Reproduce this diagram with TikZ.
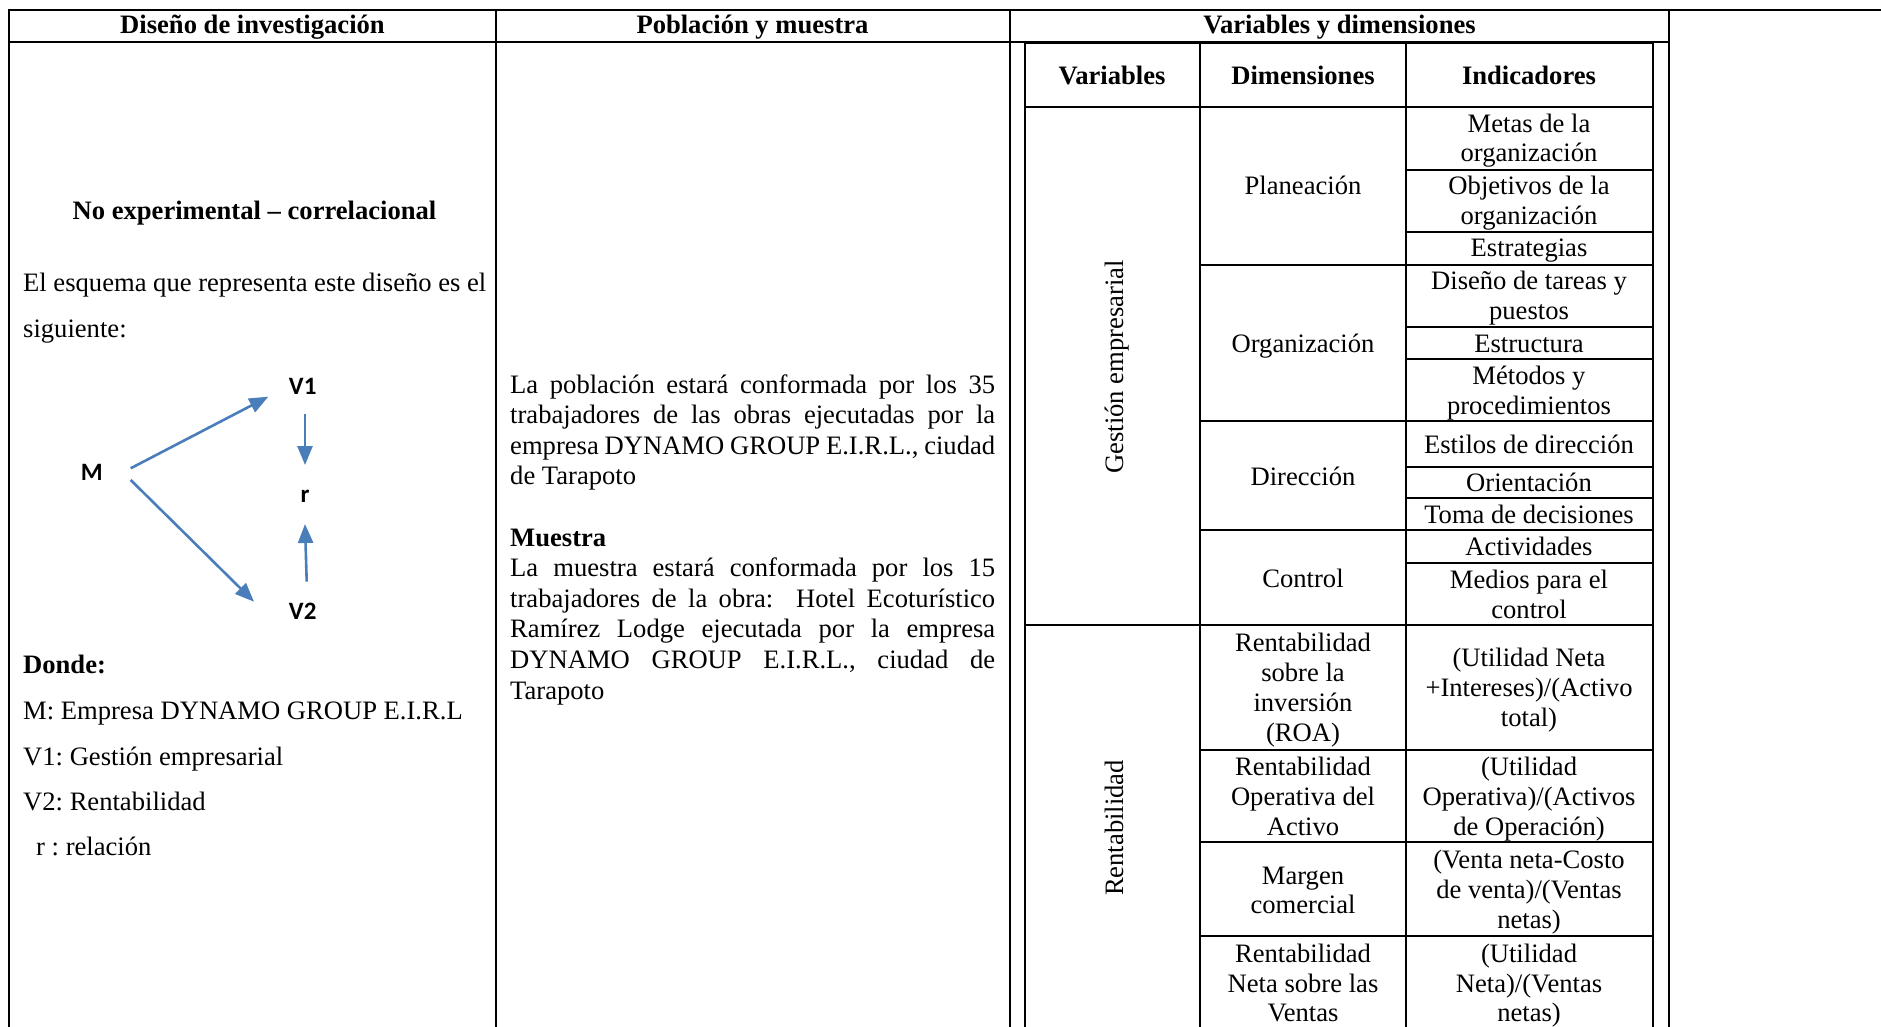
\documentclass[tikz,border=0pt]{standalone}
\usepackage{fontspec}
\setmainfont{Liberation Serif}
\newfontfamily\calibri{Carlito}
\usetikzlibrary{arrows.meta}
\definecolor{arrowblue}{RGB}{74,126,187}
\frenchspacing
\begin{document}
\begin{tikzpicture}[x=1pt,y=-1pt,
  rule/.style={line width=2pt, line cap=rect},
  txt/.style={inner sep=0pt, font=\fontsize{26.6}{30.5}\selectfont\frenchspacing},
  hd/.style={inner sep=0pt, font=\fontsize{26.6}{30.5}\selectfont\bfseries\frenchspacing},
  dg/.style={inner sep=0pt, font=\calibri\bfseries\fontsize{25}{28}\selectfont},
  arr/.style={arrowblue, line width=2.6pt, -{Triangle[length=19pt,width=15pt]}}
]
\useasboundingbox (0,0) rectangle (1881,1027);
\fill[white] (0,0) rectangle (1881,1027);

% outer table rules
\draw[rule] (9,10) -- (1885,10);
\draw[rule] (9,10) -- (9,1032);
\draw[rule] (9,42) -- (1669,42);
\draw[rule] (496,10) -- (496,1032);
\draw[rule] (1010,10) -- (1010,1032);
\draw[rule] (1669,10) -- (1669,1032);

% inner table rules
\draw[rule] (1024.5,43.5) -- (1652.5,43.5);
\draw[rule] (1024.5,43.5) -- (1024.5,1032);
\draw[rule] (1652.5,43.5) -- (1652.5,1032);
\draw[rule] (1200,43.5) -- (1200,1032);
\draw[rule] (1406,43.5) -- (1406,1032);
\foreach \yy in {107,625} \draw[rule] (1024.5,\yy) -- (1652.5,\yy);
\foreach \yy in {264.5,421,530.4,750,842.4,936} \draw[rule] (1200,\yy) -- (1652.5,\yy);
\foreach \yy in {170,231.8,326.5,358.5,466.8,498.2,562.5} \draw[rule] (1406,\yy) -- (1652.5,\yy);

% headers
\node[hd, anchor=base] (h1) at (252.5,33.5) {Diseño de investigación};
\node[hd, anchor=base] (h2) at (752.5,33.5) {Población y muestra};
\node[hd, anchor=base] (h3) at (1339.5,33.5) {Variables y dimensiones};
\node[hd, anchor=base] (ih1) at (1112,85) {Variables};
\node[hd, anchor=base] (ih2) at (1303,85) {Dimensiones};
\node[hd, anchor=base] (ih3) at (1529,85) {Indicadores};

% left column
\node[hd, anchor=base] (tipo) at (254.5,219) {No experimental – correlacional};
\node[txt, anchor=base west] (esq1) at (23,291) {El esquema que representa este diseño es el};
\node[txt, anchor=base west] (esq2) at (23,337) {siguiente:};

\node[dg] (M) at (91.7,472.7) {M};
\node[dg] (V1) at (302.7,386) {V1};
\node[dg] (r) at (305,496.7) {r};
\node[dg] (V2) at (302.7,611.7) {V2};
\draw[arr] ([shift={(39,-4.4)}]M.center) -- ([shift={(-34.4,10.7)}]V1.center);
\draw[arr] ([shift={(2.3,28)}]V1.center) -- ([shift={(0,-31.7)}]r.center);
\draw[arr] ([shift={(39,7.3)}]M.center) -- ([shift={(-48.7,-10)}]V2.center);
\draw[arr] ([shift={(4,-30)}]V2.center) -- ([shift={(0,27.3)}]r.center);

\node[hd, anchor=base west] (donde) at (23,673) {Donde:};
\node[txt, anchor=base west] (dM) at (23,719) {M: Empresa DYNAMO GROUP E.I.R.L};
\node[txt, anchor=base west] (dV1) at (23,765) {V1: Gestión empresarial};
\node[txt, anchor=base west] (dV2) at (23,810.5) {V2: Rentabilidad};
\node[txt, anchor=base west] (dr) at (36,855.5) {r : relación};

% poblacion y muestra
\node[txt, anchor=base west] (p1) at (510,393) {\makebox[485pt][s]{La población estará conformada por los 35}};
\node[txt, anchor=base west] (p2) at (510,423.6) {\makebox[485pt][s]{trabajadores de las obras ejecutadas por la}};
\node[txt, anchor=base west] (p3) at (510,454.2) {\makebox[485pt][s]{empresa DYNAMO GROUP E.I.R.L., ciudad}};
\node[txt, anchor=base west] (p4) at (510,484.8) {de Tarapoto};
\node[hd, anchor=base west] (m0) at (510,546) {Muestra};
\node[txt, anchor=base west] (m1) at (510,576.6) {\makebox[485pt][s]{La muestra estará conformada por los 15}};
\node[txt, anchor=base west] (m2) at (510,607.2) {\makebox[485pt][s]{trabajadores de la obra:\ \ Hotel Ecoturístico}};
\node[txt, anchor=base west] (m3) at (510,637.8) {\makebox[485pt][s]{Ramírez Lodge ejecutada por la empresa}};
\node[txt, anchor=base west] (m4) at (510,668.4) {\makebox[485pt][s]{DYNAMO GROUP E.I.R.L., ciudad de}};
\node[txt, anchor=base west] (m5) at (510,699) {Tarapoto};

% variables
\node[txt, anchor=base, rotate=90] (vg) at (1123,367) {Gestión empresarial};
\node[txt, anchor=base, rotate=90] (vr) at (1123,828) {Rentabilidad};

% dimensiones
\foreach \yy/\lbl [count=\i] in {194/Planeación, 352.5/Organización, 485/Dirección, 587/Control,
  651.5/Rentabilidad, 681.5/sobre la, 711.5/inversión, 741.5/{(ROA)},
  775.5/Rentabilidad, 805/Operativa del, 835/Activo,
  884.5/Margen, 913.5/comercial,
  962/Rentabilidad, 992/Neta sobre las, 1021/Ventas}
  \node[txt, anchor=base, name=dim\i] at (1303,\yy) {\lbl};

% indicadores
\foreach \yy/\lbl [count=\i] in {132.5/Metas de la, 162/organización, 195/Objetivos de la, 224.5/organización,
  256.5/Estrategias, 289.5/Diseño de tareas y, 319.5/puestos, 352/Estructura, 384/Métodos y,
  414/procedimientos, 453/Estilos de dirección, 491.5/Orientación, 523/Toma de decisiones,
  555.5/Actividades, 588/Medios para el, 618.5/control,
  666/{(Utilidad Neta}, 696.5/{+Intereses)/(Activo}, 726/{total)},
  775.5/{(Utilidad}, 805/{Operativa)/(Activos}, 835/{de Operación)},
  868/{(Venta neta-Costo}, 898.5/{de venta)/(Ventas}, 928/{netas)},
  962/{(Utilidad}, 992/{Neta)/(Ventas}, 1021/{netas)}}
  \node[txt, anchor=base, name=ind\i] at (1529,\yy) {\lbl};
\end{tikzpicture}
\end{document}
